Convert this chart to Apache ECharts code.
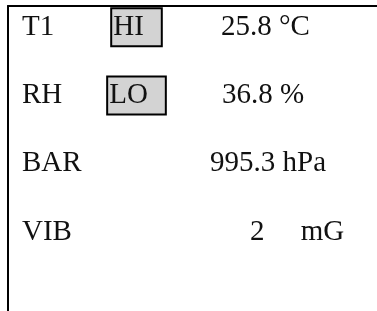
<!DOCTYPE html>
<html>
<head>
<meta charset="utf-8">
<script src="https://cdn.jsdelivr.net/npm/echarts@6/dist/echarts.min.js"></script>
<style>
  html, body { margin: 0; padding: 0; background: #fff; }
  #main { width: 377px; height: 311px; }
</style>
</head>
<body>
<div id="main"></div>
<script>
// readings shown on the panel
var rowNames = ['T1', 'RH', 'BAR', 'VIB'];
var flags = ['HI', 'LO', '', ''];
var readings = ['25.8', '36.8', '995.3', '2'];
var units = ['°C', '%', 'hPa', 'mG'];

// layout (axis units = px from the left rule)
var nameX = 14;
var flagX = 128.5;
var valueX = [213, 214, 202, 242];
var unitSep = [' ', ' ', ' ', '     '];

var font = 'Liberation Serif';
var fontSize = 29;

var chart = echarts.init(document.getElementById('main'));

var nameData = rowNames.map(function(n, i) {
    return { name: n, value: [nameX, i] };
});
var flagData = [];
flags.forEach(function(f, i) {
    if (f) flagData.push({ name: f, value: [flagX, i] });
});
var valueData = readings.map(function(r, i) {
    return { name: r + unitSep[i] + units[i], value: [valueX[i], i] };
});

var baseLabel = {
    show: true,
    formatter: '{b}',
    color: '#111',
    opacity: 1,
    fontFamily: font,
    fontSize: fontSize
};

chart.setOption({
    animation: false,
    grid: { left: 8, right: 0, top: 6, bottom: 0 },
    xAxis: {
        type: 'value', position: 'top', min: 0, max: 369,
        axisLine: { show: true, onZero: false, lineStyle: { color: '#000', width: 2 } },
        axisTick: { show: false }, axisLabel: { show: false }, splitLine: { show: false }
    },
    yAxis: {
        type: 'value', inverse: true, min: -0.31, max: 4.155,
        axisLine: { show: true, onZero: false, lineStyle: { color: '#000', width: 2 } },
        axisTick: { show: false }, axisLabel: { show: false }, splitLine: { show: false }
    },
    series: [{
        type: 'scatter', silent: true, symbolSize: 0, data: nameData,
        itemStyle: { opacity: 1 },
        label: Object.assign({}, baseLabel, { position: 'right', distance: 0 })
    }, {
        type: 'scatter', silent: true, symbolSize: 0, data: valueData,
        itemStyle: { opacity: 1 },
        label: Object.assign({}, baseLabel, { position: 'right', distance: 0 })
    }, {
        type: 'scatter', silent: true, symbolSize: 0, data: flagData, z: 5,
        itemStyle: { opacity: 1 },
        label: Object.assign({}, baseLabel, {
            position: 'inside',
            backgroundColor: '#d3d3d3',
            borderColor: '#000',
            borderWidth: 2,
            lineHeight: 34,
            padding: [1, 17, 1, 1]
        })
    }]
});
</script>
</body>
</html>
